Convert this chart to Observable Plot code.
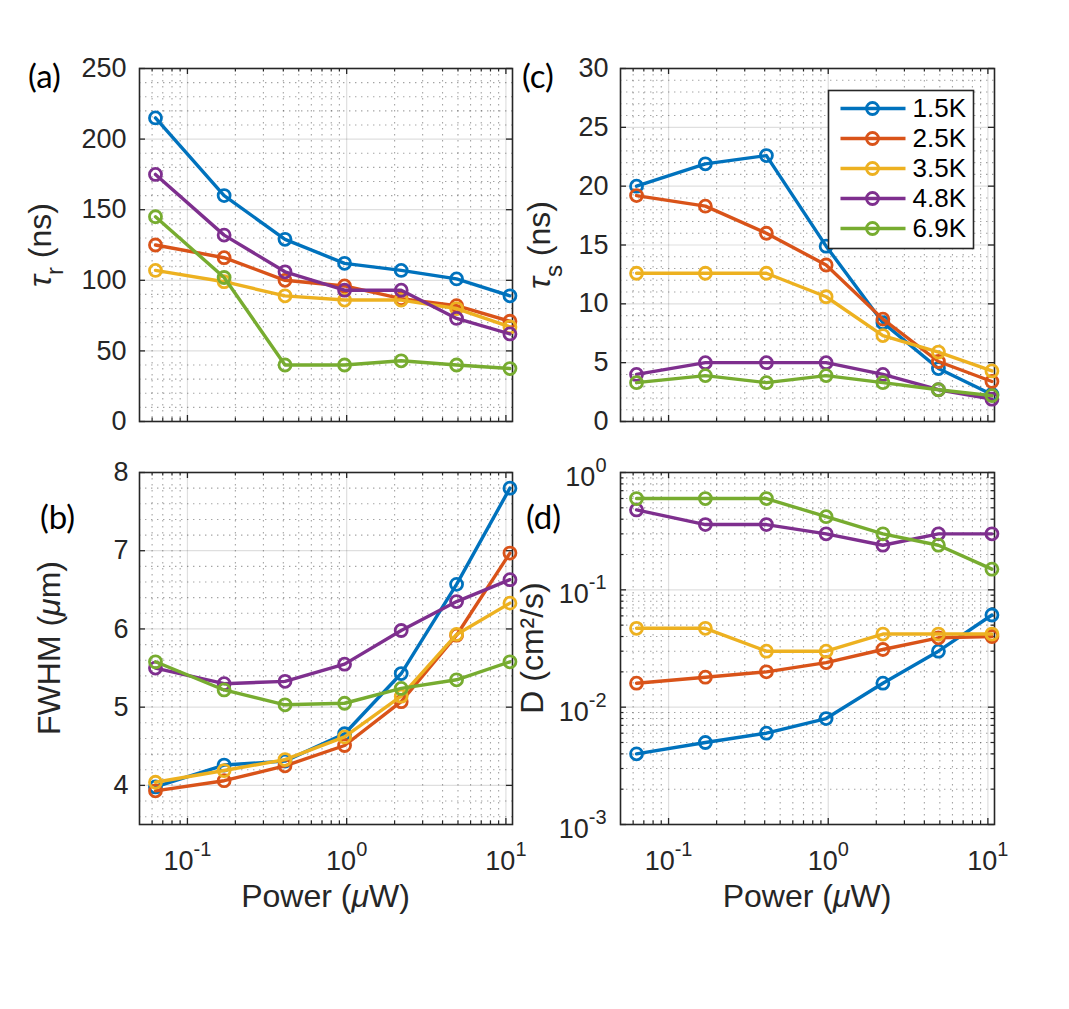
<!DOCTYPE html>
<html>
<head>
<meta charset="utf-8">
<script src="https://cdn.jsdelivr.net/npm/d3@7"></script>
<script src="https://cdn.jsdelivr.net/npm/@observablehq/plot@0.6"></script>
<style>
  body { margin: 0; background: #fff; }
  #fig { position: relative; width: 1069px; height: 1009px; background: #fff; overflow: hidden; }
  #fig > svg { position: absolute; }
</style>
</head>
<body>
<div id="fig"></div>
<script>
// Series: sample temperature
const temps = ["1.5K", "2.5K", "3.5K", "4.8K", "6.9K"];
const colors = ["#0072BD", "#D95319", "#EDB120", "#7E2F8E", "#77AC30"];

// Excitation power (µW)
const power = [0.063, 0.17, 0.41, 0.97, 2.2, 4.9, 10.6];

// (a) tau_r (ns), one row per temperature
const tauR = [
  [215, 160, 129, 112, 107, 101, 89],
  [125, 116, 100, 96, 87, 82, 71],
  [107, 99, 89, 86, 86, 80, 67],
  [175, 132, 106, 93, 93, 73, 62],
  [145, 102, 40, 40, 43, 40, 37.5]
];
// (c) tau_s (ns)
const tauS = [
  [20, 21.9, 22.6, 14.9, 8.4, 4.5, 2.3],
  [19.2, 18.3, 16, 13.3, 8.7, 5.1, 3.4],
  [12.6, 12.6, 12.6, 10.6, 7.3, 5.9, 4.3],
  [4, 5, 5, 5, 4, 2.7, 1.9],
  [3.3, 3.9, 3.3, 3.9, 3.3, 2.7, 2.2]
];
// (b) FWHM (µm)
const fwhm = [
  [3.98, 4.26, 4.31, 4.66, 5.43, 6.57, 7.8],
  [3.93, 4.06, 4.25, 4.51, 5.07, 5.92, 6.97],
  [4.04, 4.19, 4.33, 4.62, 5.14, 5.93, 6.33],
  [5.5, 5.3, 5.33, 5.55, 5.98, 6.35, 6.63],
  [5.58, 5.22, 5.03, 5.05, 5.24, 5.35, 5.58]
];
// (d) diffusion coefficient D (cm²/s)
const diffD = [
  [0.004, 0.005, 0.006, 0.008, 0.016, 0.03, 0.061],
  [0.016, 0.018, 0.02, 0.024, 0.031, 0.039, 0.04],
  [0.047, 0.047, 0.03, 0.03, 0.042, 0.042, 0.042],
  [0.48, 0.36, 0.36, 0.30, 0.24, 0.30, 0.30],
  [0.6, 0.6, 0.6, 0.42, 0.30, 0.24, 0.15]
];

// Axis ticks
const xMajor = [0.1, 1, 10];
const tickA = [0, 50, 100, 150, 200, 250];
const tickC = [0, 5, 10, 15, 20, 25, 30];
const tickB = [4, 5, 6, 7, 8];
const tickD = [0.001, 0.01, 0.1, 1];

const ink = "#262626";
const font = "'Liberation Sans', Arial, Helvetica, sans-serif";
const tickFont = 27;

function logMinor(lo, hi) {
  const out = [];
  for (let e = -4; e <= 2; e++) for (let m = 2; m <= 9; m++) {
    const v = +(m * Math.pow(10, e)).toPrecision(3);
    if (v > lo && v < hi) out.push(v);
  }
  return out;
}
const xMinor = logMinor(0.05, 11);

function toRows(values) {
  return temps.flatMap((t, i) => power.map((p, j) => ({temp: t, power: p, value: values[i][j]})));
}

const fig = document.getElementById("fig");

// turn "10^e" labels into 10 with a raised exponent
function superscripts(svg) {
  d3.select(svg).selectAll("text").each(function () {
    const m = /^10\^(-?\d+)$/.exec(this.textContent);
    if (m) {
      this.textContent = "10";
      d3.select(this).append("tspan").attr("dy", "-14").attr("font-size", "0.74em").text(m[1]);
    }
  });
}

function panel(cfg) {
  const {left, top, width, height, ml, mr, mt, mb, y, yMajor, yMinor, yMinorTicks,
         values, xAxis, yFormat, yPad, yDy = 0} = cfg;
  const ih = height - mt - mb;
  const iw = width - ml - mr;
  const data = toRows(values);
  const minorGrid = {stroke: ink, strokeOpacity: 0.42, strokeWidth: 1.1, strokeDasharray: "1.4,4.6"};
  const majorGrid = {stroke: ink, strokeOpacity: 0.15, strokeWidth: 1.2};
  const marks = [
    Plot.ruleX(xMinor, minorGrid),
    Plot.ruleY(yMinor, minorGrid),
    Plot.ruleX(xMajor, majorGrid),
    Plot.ruleY(yMajor, majorGrid),
    Plot.tickX(xMajor, {x: d => d, insetTop: ih - 6, stroke: ink, strokeWidth: 1.3}),
    Plot.tickX(xMajor, {x: d => d, insetBottom: ih - 6, stroke: ink, strokeWidth: 1.3}),
    Plot.tickX(xMinor, {x: d => d, insetTop: ih - 3.5, stroke: ink, strokeWidth: 1.2}),
    Plot.tickX(xMinor, {x: d => d, insetBottom: ih - 3.5, stroke: ink, strokeWidth: 1.2}),
    Plot.tickY(yMajor, {y: d => d, insetRight: iw - 6, stroke: ink, strokeWidth: 1.3}),
    Plot.tickY(yMajor, {y: d => d, insetLeft: iw - 6, stroke: ink, strokeWidth: 1.3})
  ];
  if (yMinorTicks) {
    marks.push(
      Plot.tickY(yMinor, {y: d => d, insetRight: iw - 3.5, stroke: ink, strokeWidth: 1.2}),
      Plot.tickY(yMinor, {y: d => d, insetLeft: iw - 3.5, stroke: ink, strokeWidth: 1.2})
    );
  }
  marks.push(
    Plot.frame({stroke: ink, strokeWidth: 1.6}),
    Plot.axisY(yMajor, {anchor: "left", tickSize: 0, tickPadding: yPad, fontSize: tickFont,
                        label: null, tickFormat: yFormat, dy: yDy, fill: ink})
  );
  if (xAxis) {
    marks.push(Plot.axisX(xMajor, {anchor: "bottom", tickSize: 0, tickPadding: 26, fontSize: tickFont,
      label: null, fill: ink, tickFormat: d => "10^" + Math.round(Math.log10(d))}));
  }
  temps.forEach(t => {
    const s = data.filter(d => d.temp === t);
    marks.push(Plot.line(s, {x: "power", y: "value", stroke: "temp", strokeWidth: 3.4}));
    marks.push(Plot.dot(s, {x: "power", y: "value", stroke: "temp", r: 6, strokeWidth: 2.8, fill: "none"}));
  });
  const xScale = {type: "log", domain: [0.05, 11], label: null};
  if (!xAxis) xScale.axis = null;
  const svg = Plot.plot({
    width, height,
    marginLeft: ml, marginRight: mr, marginTop: mt, marginBottom: mb,
    style: {background: "transparent", overflow: "visible", fontFamily: font, color: ink},
    x: xScale,
    y: {...y, label: null},
    color: {domain: temps, range: colors},
    marks
  });
  superscripts(svg);
  svg.style.left = left + "px";
  svg.style.top = top + "px";
  fig.appendChild(svg);
}

const linMinor = (lo, hi, step, major) =>
  d3.range(Math.round(lo / step), Math.round(hi / step) + 1)
    .map(k => +(k * step).toFixed(4))
    .filter(v => Math.abs(v / major - Math.round(v / major)) > 1e-6);

const plain = d => String(d);

// (a)
panel({left: 0, top: 0, width: 534, height: 450, ml: 139, mr: 22, mt: 68, mb: 29,
  y: {domain: [0, 250]}, yMajor: tickA, yMinor: linMinor(0, 250, 10, 50),
  values: tauR, xAxis: false, yPad: 13, yFormat: plain});
// (c)
panel({left: 534, top: 0, width: 535, height: 450, ml: 86, mr: 75, mt: 68, mb: 29,
  y: {domain: [0, 30]}, yMajor: tickC, yMinor: linMinor(0, 30, 1, 5),
  values: tauS, xAxis: false, yPad: 12, yFormat: plain});
// (b)
panel({left: 0, top: 450, width: 534, height: 559, ml: 139, mr: 22, mt: 22, mb: 185,
  y: {domain: [3.5, 8]}, yMajor: tickB, yMinor: linMinor(3.6, 8, 0.2, 1),
  values: fwhm, xAxis: true, yPad: 11, yFormat: plain});
// (d)
panel({left: 534, top: 450, width: 535, height: 559, ml: 86, mr: 75, mt: 22, mb: 185,
  y: {type: "log", domain: [0.001, 1]}, yMajor: tickD, yMinor: logMinor(0.001, 1), yMinorTicks: true,
  values: diffD, xAxis: true, yPad: 14, yDy: 5,
  yFormat: d => "10^" + Math.round(Math.log10(d))});

// Legend for the temperatures
const legend = Plot.plot({
  width: 145, height: 158, margin: 0,
  style: {background: "transparent", overflow: "visible", fontFamily: font},
  x: {domain: [0, 145], range: [0, 145], axis: null},
  y: {type: "point", domain: temps, range: [18, 138], padding: 0, axis: null},
  color: {domain: temps, range: colors},
  marks: [
    Plot.frame({fill: "white", stroke: ink, strokeWidth: 1.6}),
    Plot.link(temps, {x1: 12, x2: 77, y1: d => d, y2: d => d, stroke: d => d, strokeWidth: 3.4}),
    Plot.dot(temps, {x: 44, y: d => d, stroke: d => d, r: 6, strokeWidth: 2.8, fill: "none"}),
    Plot.text(temps, {x: 84, y: d => d, text: d => d, textAnchor: "start", fontSize: 26, fill: "#000"})
  ]
});
legend.style.left = "828px";
legend.style.top = "90px";
fig.appendChild(legend);

// Axis titles and panel letters
const over = d3.select(fig).append("svg")
  .attr("width", 1069).attr("height", 1009)
  .style("left", "0px").style("top", "0px").style("pointer-events", "none")
  .attr("font-family", font).attr("fill", ink);

function richText(x, y, rotate, parts, size) {
  const t = over.append("text")
    .attr("transform", `translate(${x},${y})` + (rotate ? " rotate(-90)" : ""))
    .attr("text-anchor", "middle").attr("font-size", size);
  let shift = 0;
  parts.forEach(p => {
    const s = t.append("tspan").text(p.t);
    const target = p.sub ? 12 : 0;
    if (target !== shift) { s.attr("dy", target - shift); shift = target; }
    if (p.sub) s.attr("font-size", size * 0.75);
    if (p.italic) s.attr("font-style", "italic");
  });
  return t;
}

richText(51, 245, true, [{t: "τ", italic: true}, {t: "r", sub: true}, {t: " (ns)"}], 32);
richText(550, 245, true, [{t: "τ", italic: true}, {t: "s", sub: true}, {t: " (ns)"}], 32);
richText(60, 648, true, [{t: "FWHM ("}, {t: "μ", italic: true}, {t: "m)"}], 32);
richText(543, 648, true, [{t: "D (cm²/s)"}], 32);
richText(325.5, 907, false, [{t: "Power ("}, {t: "μ", italic: true}, {t: "W)"}], 32);
richText(807, 907, false, [{t: "Power ("}, {t: "μ", italic: true}, {t: "W)"}], 32);

const letterFont = "Lato, 'Open Sans', sans-serif";
[["(a)", 28, 88], ["(c)", 522, 88], ["(b)", 40, 529], ["(d)", 526, 529]].forEach(([s, x, y]) => {
  over.append("text").attr("x", x).attr("y", y).attr("font-family", letterFont)
    .attr("font-size", 33).attr("fill", "#000").text(s);
});
</script>
</body>
</html>
